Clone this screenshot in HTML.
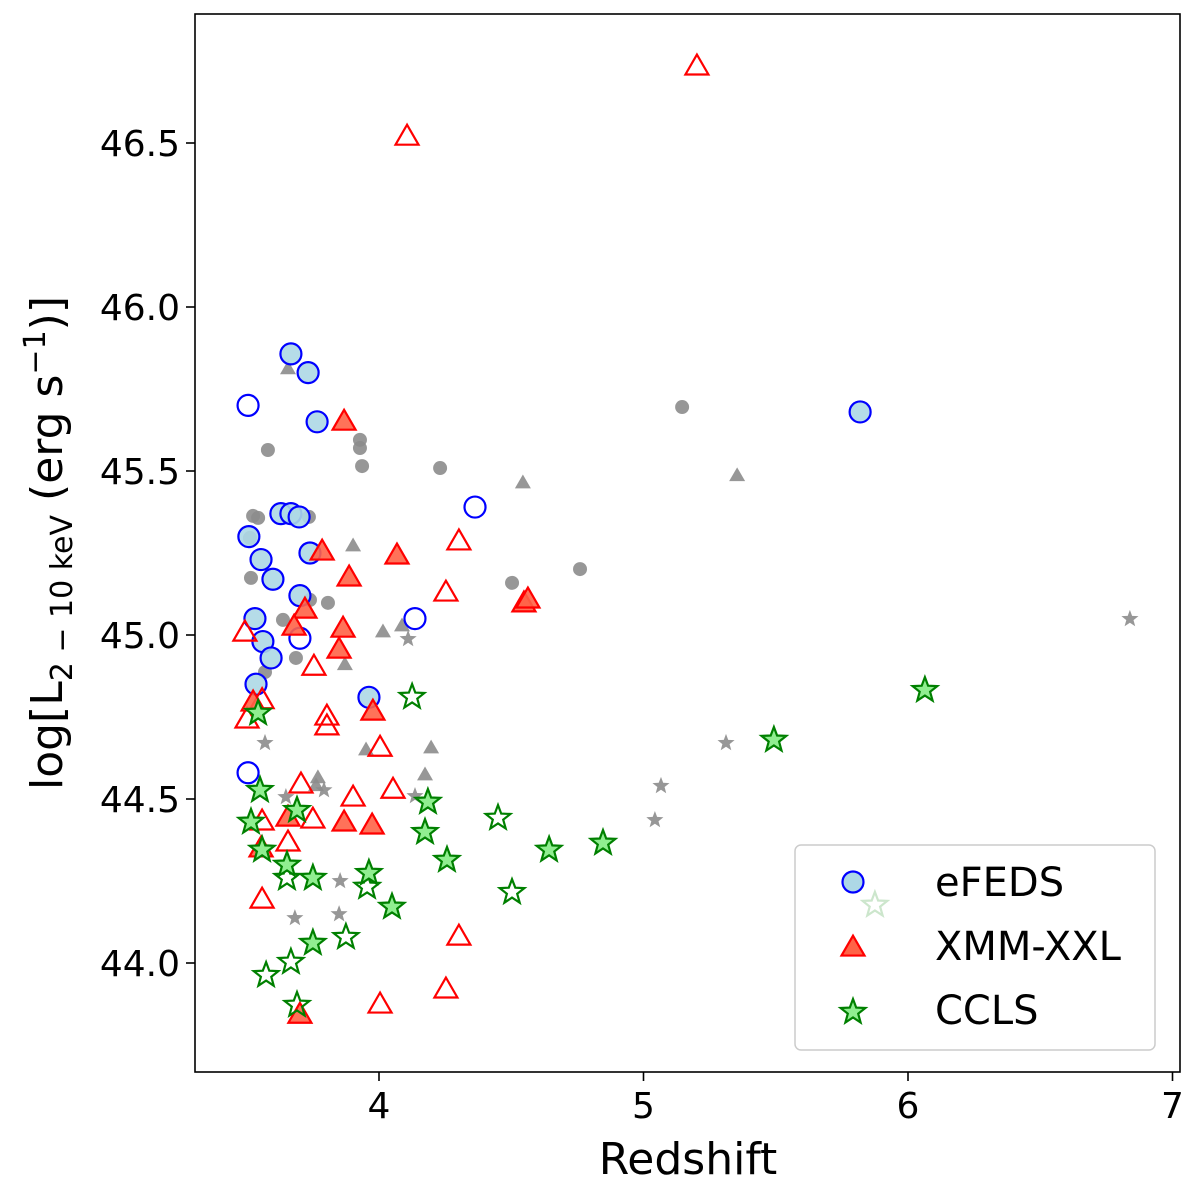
<!DOCTYPE html>
<html><head><meta charset="utf-8"><style>
body{margin:0;background:#fff}
svg{display:block;font-family:"DejaVu Sans","Liberation Sans",sans-serif}
</style></head><body>
<svg id="chart" width="1200" height="1183" viewBox="0 0 1200 1183" xmlns="http://www.w3.org/2000/svg">
<rect x="0" y="0" width="1200" height="1183" fill="#fff"/>
<g id="marks"></g>
<rect x="195" y="14" width="985" height="1058" fill="none" stroke="#000" stroke-width="1.6"/>
<g id="axes"></g>
<text x="688" y="1174" text-anchor="middle" font-size="44">Redshift</text>
<text transform="translate(62,543) rotate(-90)" text-anchor="middle" font-size="44">log[L<tspan font-size="30" dy="10">2 − 10 keV</tspan><tspan dy="-10"> (erg s</tspan><tspan font-size="30" dy="-17">−1</tspan><tspan dy="17">)]</tspan></text>
<g>
<rect x="795" y="845" width="360" height="205" rx="6" fill="#fff" fill-opacity="0.8" stroke="#ccc" stroke-width="1.5"/>
<g id="legendMarks"></g>
<text x="935" y="896" font-size="40">eFEDS</text>
<text x="935" y="960" font-size="40">XMM-XXL</text>
<text x="935" y="1024" font-size="40">CCLS</text>
</g>
</svg>
<script>
const xTicks=[4,5,6,7];
const yTicks=[44.0,44.5,45.0,45.5,46.0,46.5];
const efedsFilledZ=[3.667,3.732,3.766,3.629,3.667,3.698,3.739,3.508,3.554,3.599,3.701,3.531,3.561,3.592,3.535,3.962,5.819];
const efedsFilledL=[45.857,45.80,45.65,45.37,45.37,45.36,45.25,45.30,45.23,45.17,45.12,45.05,44.98,44.93,44.85,44.81,45.68];
const efedsOpenZ=[3.505,4.363,3.701,4.136,3.505];
const efedsOpenL=[45.70,45.39,44.99,45.05,44.58];
const xmmFilledZ=[3.868,3.785,3.887,3.720,3.679,3.864,3.849,3.977,4.068,4.548,4.563,3.868,3.974,3.524,3.554,3.656,3.701];
const xmmFilledL=[45.649,45.253,45.174,45.076,45.024,45.018,44.954,44.765,45.241,45.095,45.107,44.427,44.418,44.793,44.348,44.442,43.841];
const xmmOpenZ=[5.202,4.106,4.302,4.253,3.754,3.803,3.803,4.004,3.705,3.750,3.902,4.053,3.656,3.558,3.558,4.302,4.253,4.004,3.501,3.493,3.558];
const xmmOpenL=[46.732,46.518,45.284,45.128,44.902,44.750,44.720,44.655,44.543,44.436,44.503,44.527,44.366,44.430,44.192,44.079,43.918,43.872,44.741,45.006,44.80];
const cclsFilledZ=[3.543,3.550,3.516,3.690,3.558,4.185,4.174,4.257,3.652,3.750,3.962,4.049,3.750,4.643,4.847,5.493,6.064];
const cclsFilledL=[44.762,44.527,44.430,44.466,44.345,44.491,44.399,44.314,44.299,44.259,44.274,44.171,44.061,44.345,44.366,44.680,44.832];
const cclsOpenZ=[4.125,4.450,4.503,3.652,3.955,3.875,3.667,3.573,3.690,5.875];
const cclsOpenL=[44.811,44.442,44.216,44.259,44.232,44.079,44.003,43.963,43.872,44.177];
const greyCircZ=[3.580,3.928,3.928,3.936,4.231,5.146,4.503,4.760,3.524,3.543,3.516,3.735,3.637,3.686,3.739,3.807,3.569,3.512];
const greyCircL=[45.564,45.595,45.570,45.515,45.509,45.695,45.159,45.201,45.363,45.357,45.174,45.360,45.046,44.930,45.107,45.098,44.887,45.296];
const greyTriZ=[3.656,3.902,4.015,4.087,4.544,5.354,3.769,3.762,3.871,4.197,4.174,3.951];
const greyTriL=[45.811,45.271,45.009,45.027,45.463,45.485,44.564,44.540,44.909,44.655,44.573,44.649];
const greyStarZ=[6.839,4.110,3.569,3.648,3.792,5.066,5.043,5.312,3.682,3.849,3.853,4.136];
const greyStarL=[45.049,44.988,44.671,44.506,44.527,44.540,44.436,44.671,44.137,44.149,44.250,44.509];

const NS='http://www.w3.org/2000/svg';
function X(z){return 379+(z-4)*264.5;}
function Y(v){return 963-(v-44)*328;}
const marks=document.getElementById('marks');
const axes=document.getElementById('axes');
function mk(tag,attrs,parent){const e=document.createElementNS(NS,tag);for(const k in attrs)e.setAttribute(k,attrs[k]);parent.appendChild(e);return e;}
function triPts(cx,cy,s){const h=s*0.866;return `${cx},${cy-h*0.62} ${cx-s/2},${cy+h*0.38} ${cx+s/2},${cy+h*0.38}`;}
function starPts(cx,cy,r){let p=[];for(let i=0;i<10;i++){const rr=i%2?r*0.42:r;const a=-Math.PI/2+i*Math.PI/5;p.push((cx+rr*Math.cos(a)).toFixed(1)+','+(cy+rr*Math.sin(a)).toFixed(1));}return p.join(' ');}
function circ(cx,cy,r,fill,stroke,sw,op,parent){return mk('circle',{cx,cy,r,fill,stroke,'stroke-width':sw,'fill-opacity':op},parent);}
function tri(cx,cy,s,fill,stroke,sw,op,parent){return mk('polygon',{points:triPts(cx,cy,s),fill,stroke,'stroke-width':sw,'fill-opacity':op},parent);}
function star(cx,cy,r,fill,stroke,sw,op,parent){return mk('polygon',{points:starPts(cx,cy,r),fill,stroke,'stroke-width':sw,'fill-opacity':op},parent);}

xTicks.forEach(t=>{
  const l=mk('line',{x1:X(t),x2:X(t),y1:1072,y2:1081,stroke:'#000','stroke-width':1.6},axes);
  
  
  const tx=mk('text',{x:X(t),y:1118,'text-anchor':'middle','font-size':36},axes);
  tx.textContent=String(t);
  
  
});
yTicks.forEach(t=>{
  const l=mk('line',{x1:186,x2:195,y1:Y(t),y2:Y(t),stroke:'#000','stroke-width':1.6},axes);
  
  
  const tx=mk('text',{x:180,y:Y(t)+13,'text-anchor':'end','font-size':36},axes);
  tx.textContent=t.toFixed(1);
  
  
});

greyCircZ.forEach((z,i)=>{const e=circ(X(z),Y(greyCircL[i]),7,'#8c8c8c','none',0,0.9,marks);
  
  });
greyTriZ.forEach((z,i)=>{const e=tri(X(z),Y(greyTriL[i]),16,'#8c8c8c','none',0,0.9,marks);
  
  });
greyStarZ.forEach((z,i)=>{const e=star(X(z),Y(greyStarL[i]),9,'#8c8c8c','none',0,0.9,marks);
  
  });
efedsOpenZ.forEach((z,i)=>{const e=circ(X(z),Y(efedsOpenL[i]),10.5,'#fff','#0000ff',2.2,0,marks);
  
  });
efedsFilledZ.forEach((z,i)=>{const e=circ(X(z),Y(efedsFilledL[i]),10.5,'#add8e6','#0000ff',2.2,0.9,marks);
  
  });
xmmOpenZ.forEach((z,i)=>{const e=tri(X(z),Y(xmmOpenL[i]),23,'none','#ff0000',2.2,0,marks);
  
  });
xmmFilledZ.forEach((z,i)=>{const e=tri(X(z),Y(xmmFilledL[i]),23,'#ff6347','#ff0000',2.2,0.9,marks);
  
  });
cclsOpenZ.forEach((z,i)=>{const e=star(X(z),Y(cclsOpenL[i]),13,'#fff','#008000',2.2,0,marks);
  
  });
cclsFilledZ.forEach((z,i)=>{const e=star(X(z),Y(cclsFilledL[i]),13,'#90ee90','#008000',2.2,1,marks);
  
  });

const lg=document.getElementById('legendMarks');
const l1=circ(853,882,10.5,'#add8e6','#0000ff',2.2,1,lg);


const l2=tri(853,948,23,'#ff6347','#ff0000',2.2,1,lg);


const l3=star(853,1012,13,'#90ee90','#008000',2.2,1,lg);


</script>
</body></html>
